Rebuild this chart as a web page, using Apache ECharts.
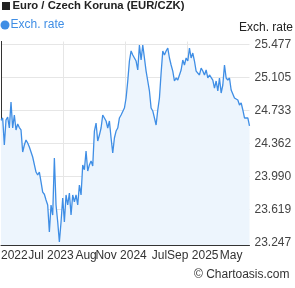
<!DOCTYPE html>
<html>
<head>
<meta charset="utf-8">
<script src="https://cdn.jsdelivr.net/npm/echarts@6/dist/echarts.min.js"></script>
<style>html,body{margin:0;padding:0;background:#fff}#c{width:295px;height:288px}</style>
</head>
<body>
<div id="c"></div>
<script>
// Weekly EUR/CZK exchange rate (approx. 3 years)
const rates = [
 24.620,24.648,24.344,24.625,24.659,24.535,24.828,24.535,24.682,24.513,
 24.580,24.540,24.513,24.265,24.344,24.400,24.366,24.321,24.310,24.209,
 24.231,24.040,24.006,24.040,23.928,23.815,23.790,23.725,23.669,23.365,
 23.669,23.556,24.198,23.669,23.480,23.253,23.478,23.748,23.478,23.782,
 23.669,23.804,23.556,23.782,23.703,23.782,23.669,23.894,23.782,24.119,
 24.066,24.276,24.051,24.120,24.164,24.108,24.501,24.591,24.389,24.456,
 24.535,24.682,24.648,24.614,24.535,24.614,24.423,24.254,24.423,24.501,
 24.535,24.648,24.682,24.670,24.760,24.873,25.064,25.289,25.402,25.357,
 25.379,25.289,25.188,25.469,25.300,25.469,25.323,25.176,25.064,24.952,
 24.760,24.727,24.738,24.569,24.738,24.873,25.154,25.402,25.357,25.402,
 25.435,25.323,25.244,25.176,25.064,25.098,25.075,25.132,25.188,25.300,
 25.244,25.323,25.289,25.435,25.323,25.379,25.289,25.176,25.188,25.132,
 25.210,25.176,25.132,25.188,25.098,25.132,25.120,25.075,24.985,25.064,
 24.952,25.098,24.929,25.019,25.244,25.098,25.075,25.098,24.963,24.952,
 24.873,24.873,24.850,24.794,24.817,24.738,24.648,24.670,24.648,24.558
];
const xTickLabels = ['2022','Jul 2023','Aug','Nov 2024','Jul','Sep 2025','May'];
const xTickWeek = [8,30,51,72,95,115,138];
const xGridWeek = [37.25,74.5,111.75];
const yTickLabels = ['23.247','23.619','23.990','24.362','24.733','25.105','25.477'];
const yMin = 23.2189, yMax = 25.5085;
const seriesName = 'Exch. rate';
const titleText = 'Euro / Czech Koruna (EUR/CZK)';
const copyright = '\u00A9 Chartoasis.com';

const yVals = yTickLabels.map(Number);
const FONT = '"Liberation Sans", Arial, sans-serif';
const BLUE = '#3f8ee5';
const chart = echarts.init(document.getElementById('c'), null, {renderer: 'canvas'});
chart.setOption({
  animation: false,
  backgroundColor: '#fff',
  textStyle: {fontFamily: FONT},
  grid: {left: 1, right: 45.5, top: 41.5, bottom: 43, outerBoundsMode: 'none'},
  xAxis: {
    type: 'value', min: 0, max: rates.length - 1,
    axisLine: {show: true, lineStyle: {color: '#333', width: 1}},
    axisTick: {show: false, customValues: xGridWeek},
    splitLine: {show: true, lineStyle: {color: '#e6e6e6', width: 1}},
    axisLabel: {
      customValues: xTickWeek, margin: 5, color: '#333', fontSize: 12, fontFamily: FONT,
      formatter: v => xTickLabels[xTickWeek.indexOf(v)]
    }
  },
  yAxis: [{
    type: 'value', position: 'right', min: yMin, max: yMax,
    axisLine: {show: true, lineStyle: {color: '#333', width: 1}},
    axisTick: {show: false, customValues: yVals},
    splitLine: {show: true, lineStyle: {color: '#e6e6e6', width: 1}},
    axisLabel: {
      customValues: yVals, margin: 5, color: '#444', fontSize: 12, fontFamily: FONT,
      formatter: v => yTickLabels[yVals.indexOf(v)] || v.toFixed(3)
    }
  }, {
    type: 'value', position: 'left', min: yMin, max: yMax,
    axisLine: {show: true, lineStyle: {color: '#333', width: 1}},
    axisTick: {show: false}, splitLine: {show: false}, axisLabel: {show: false}
  }],
  series: [{
    name: seriesName, type: 'line', showSymbol: false,
    data: rates.map((v, i) => [i, v]),
    lineStyle: {color: BLUE, width: 1.3},
    itemStyle: {color: BLUE},
    areaStyle: {color: '#edf5fd', opacity: 1}
  }],
  graphic: [
    {type: 'rect', shape: {x: 2, y: 2, width: 8, height: 8}, style: {fill: '#222'}},
    {type: 'text', x: 12.5, y: 6, style: {text: titleText, fill: '#222', font: 'bold 11.3px ' + FONT, textVerticalAlign: 'middle'}},
    {type: 'circle', shape: {cx: 5, cy: 25, r: 4.5}, style: {fill: BLUE}},
    {type: 'text', x: 10.5, y: 25, style: {text: seriesName, fill: BLUE, font: '12px ' + FONT, textVerticalAlign: 'middle'}},
    {type: 'text', x: 293, y: 28, style: {text: seriesName, fill: '#222', font: '12px ' + FONT, textAlign: 'right', textVerticalAlign: 'middle'}},
    {type: 'text', x: 289.5, y: 275, style: {text: copyright, fill: '#333', font: '12px ' + FONT, textAlign: 'right', textVerticalAlign: 'middle'}}
  ]
});
</script>
</body>
</html>
